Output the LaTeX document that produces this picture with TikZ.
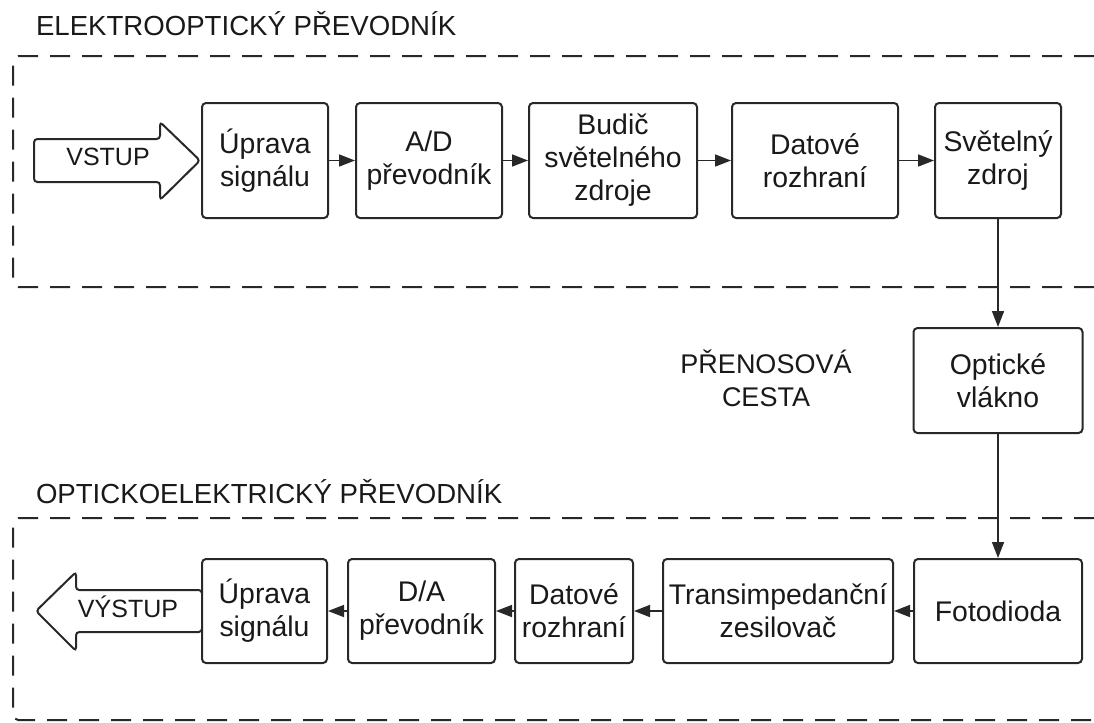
\documentclass[tikz,border=0pt]{standalone}
\usepackage{fontspec}
\setmainfont{Liberation Sans}
\usetikzlibrary{arrows.meta}

\definecolor{inkline}{RGB}{40,40,40}
\definecolor{inktext}{RGB}{25,25,25}

\tikzset{every picture/.style={line width=1.5pt}}
\tikzset{
  blok/.style={draw=inkline, line width=1.5pt, rounded corners=3pt, fill=white,
    align=center, inner sep=0pt, text=inktext, font=\fontsize{21.3}{24.75}\selectfont},
  spoj/.style={draw=inkline, line width=1.2pt, -{Triangle[length=12pt,width=9pt]}},
  ramec/.style={draw=inkline, line width=1.5pt, dash pattern={on 15pt off 9pt}, rounded corners=4pt},
  sipka/.style={draw=inkline, line width=1.5pt, rounded corners=2.5pt, fill=white},
  nadpis/.style={anchor=base west, inner sep=0pt, text=inktext, font=\fontsize{20.7}{24.75}\selectfont}
}

\begin{document}
\begin{tikzpicture}[x=0.75pt,y=0.75pt,yscale=-1,xscale=1]
        \useasboundingbox (0,0) rectangle (1094,722);

        %Shape: Dashed frame (upper)
        \draw [ramec]  (1094,56) -- (13,56) -- (13,287) -- (1094,287) ;
        %Shape: Dashed frame (lower)
        \draw [ramec]  (1094,518) -- (13,518) -- (13,720) -- (1094,720) ;

        % Text Node
        \node [nadpis] (tit1) at (35,35) {ELEKTROOPTICKÝ PŘEVODNÍK};
        % Text Node
        \node [nadpis] (tit2) at (35,503) {OPTICKOELEKTRICKÝ PŘEVODNÍK};
        % Text Node
        \node [align=center, inner sep=0pt, text=inktext, font=\fontsize{20.25}{24.75}\selectfont] (cesta) at (766,378) {PŘENOSOVÁ\\CESTA};

        %Shape: Block arrow (input)
        \draw [sipka]  (34,139) -- (160,139) -- (160,122) -- (200,160.5) -- (160,200) -- (160,182) -- (34,182) -- cycle ;
        \node [inner sep=0pt, text=inktext, font=\fontsize{18.75}{22}\selectfont] (vstup) at (108,157) {VSTUP};
        %Shape: Block arrow (output)
        \draw [sipka]  (202,590) -- (76,590) -- (76,572) -- (36,611) -- (76,651) -- (76,632) -- (202,632) -- cycle ;
        \node [inner sep=0pt, text=inktext, font=\fontsize{18.75}{22}\selectfont] (vystup) at (128,607) {VÝSTUP};

        %Shape: Rectangle (upper row)
        \node [blok, minimum width=94.5pt, minimum height=86.25pt] (upr1) at (265,160.5) {Úprava\\signálu};
        \node [blok, minimum width=109.5pt, minimum height=86.25pt] (ad) at (429,160.5) {A/D\\převodník};
        \node [blok, minimum width=126pt, minimum height=86.25pt] (budic) at (613,160.5) {Budič\\světelného\\zdroje};
        \node [blok, minimum width=124.5pt, minimum height=86.25pt] (dat1) at (815,160.5) {Datové\\rozhraní};
        \node [blok, minimum width=94.5pt, minimum height=86.25pt] (zdroj) at (998,160.5) {Světelný\\zdroj};

        %Shape: Rectangle (transmission path)
        \node [blok, minimum width=126.75pt, minimum height=78.75pt] (vlakno) at (998,380.5) {Optické\\vlákno};

        %Shape: Rectangle (lower row)
        \node [blok, minimum width=126pt, minimum height=78pt] (foto) at (998,611) {Fotodioda};
        \node [blok, minimum width=172.5pt, minimum height=78pt] (trans) at (778,611) {Transimpedanční\\zesilovač};
        \node [blok, minimum width=88.5pt, minimum height=78pt] (dat2) at (574,611) {Datové\\rozhraní};
        \node [blok, minimum width=110.25pt, minimum height=78pt] (da) at (421.5,611) {D/A\\převodník};
        \node [blok, minimum width=93.75pt, minimum height=78pt] (upr2) at (264.5,611) {Úprava\\signálu};

        %Straight Lines
        \draw [spoj]  (upr1) -- (ad) ;
        \draw [spoj]  (ad) -- (budic) ;
        \draw [spoj]  (budic) -- (dat1) ;
        \draw [spoj]  (dat1) -- (zdroj) ;
        \draw [spoj]  (zdroj) -- (vlakno) ;
        \draw [spoj]  (vlakno) -- (foto) ;
        \draw [spoj]  (foto) -- (trans) ;
        \draw [spoj]  (trans) -- (dat2) ;
        \draw [spoj]  (dat2) -- (da) ;
        \draw [spoj]  (da) -- (upr2) ;

    \end{tikzpicture}
\end{document}
